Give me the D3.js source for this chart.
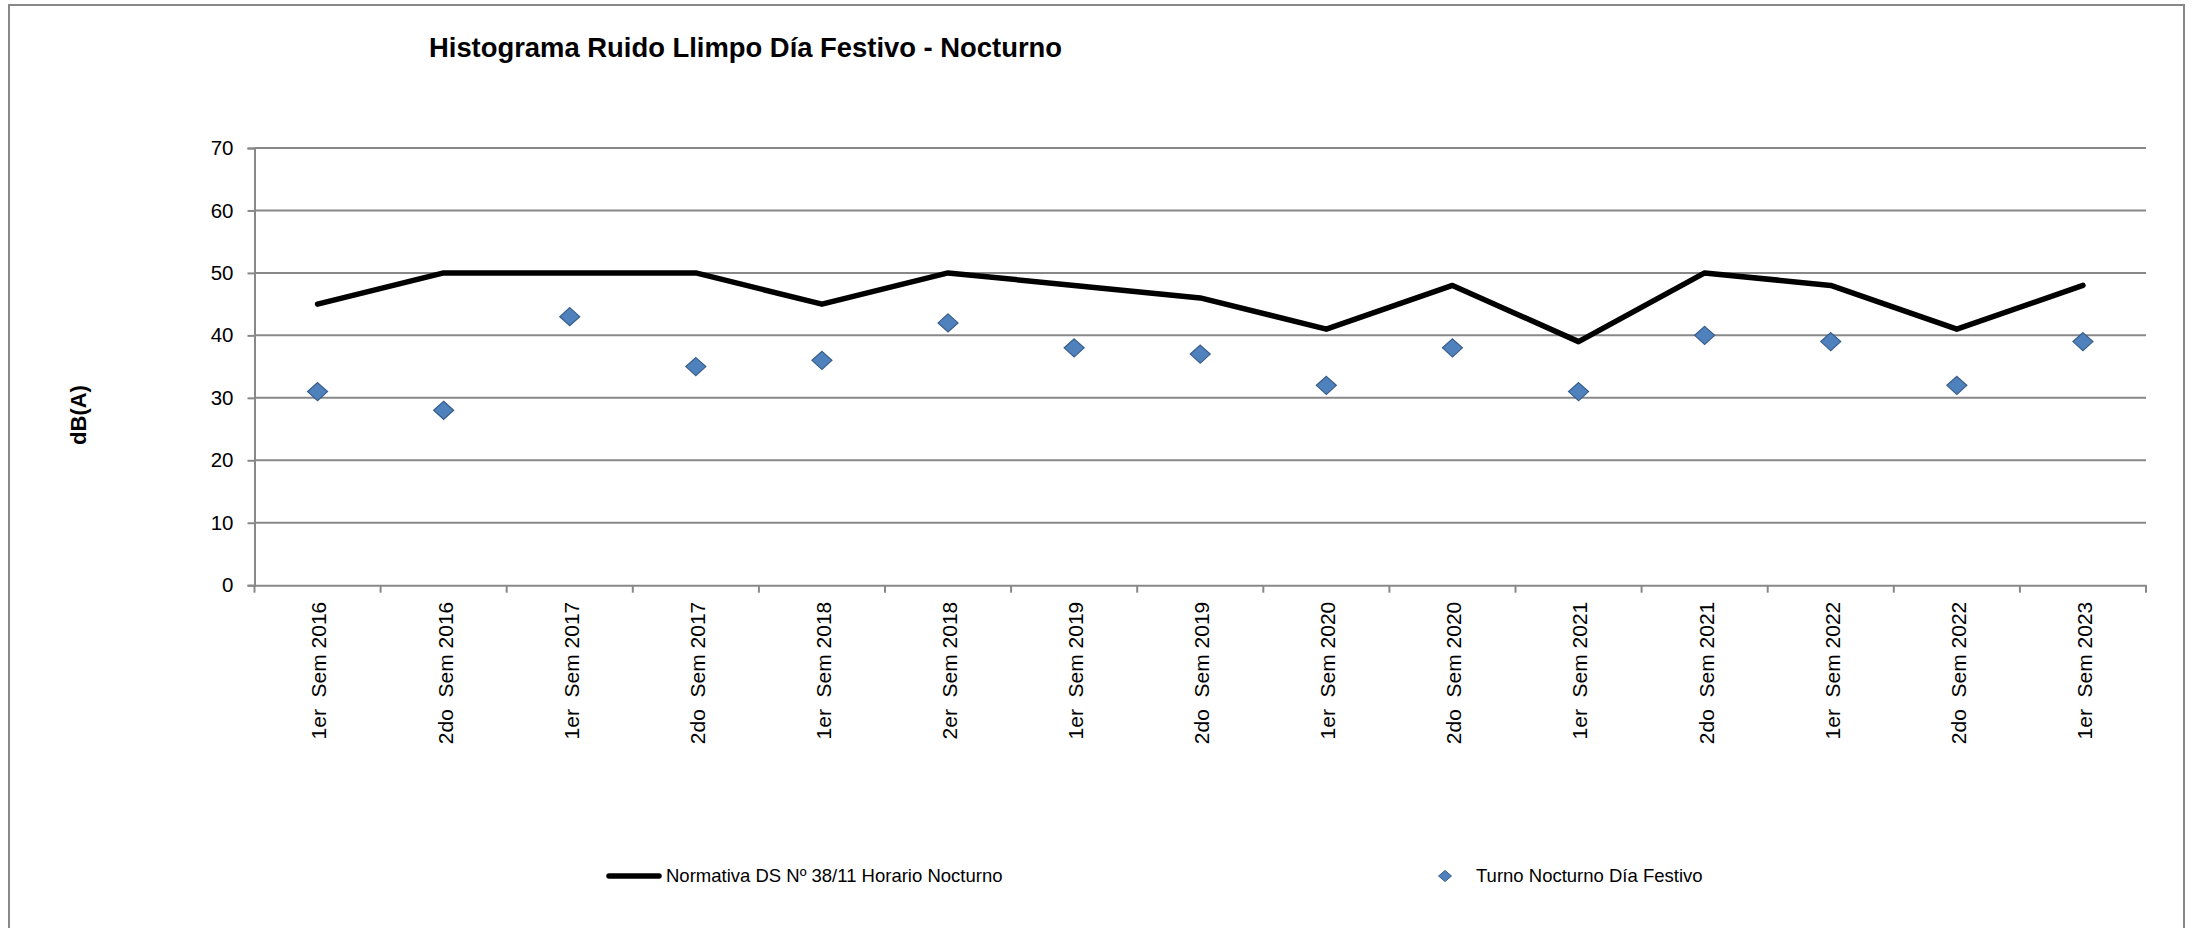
<!DOCTYPE html>
<html>
<head>
<meta charset="utf-8">
<script src="https://cdn.jsdelivr.net/npm/d3@7"></script>
<style>
  html, body { margin: 0; padding: 0; background: #ffffff; }
  svg { display: block; }
  text { font-family: "Liberation Sans", Arial, sans-serif; fill: #000; }
</style>
</head>
<body>
<svg id="chart" width="2196" height="928"></svg>
<script>
// ---- data ----
const categories = [
  "1er  Sem 2016", "2do  Sem 2016", "1er  Sem 2017", "2do  Sem 2017", "1er  Sem 2018",
  "2er  Sem 2018", "1er  Sem 2019", "2do  Sem 2019", "1er  Sem 2020", "2do  Sem 2020",
  "1er  Sem 2021", "2do  Sem 2021", "1er  Sem 2022", "2do  Sem 2022", "1er  Sem 2023"
];
const normativa = [45, 50, 50, 50, 45, 50, 48, 46, 41, 48, 39, 50, 48, 41, 48];
const turnoNocturno = [31, 28, 43, 35, 36, 42, 38, 37, 32, 38, 31, 40, 39, 32, 39];
const yTicks = [0, 10, 20, 30, 40, 50, 60, 70];
const seriesNames = ["Normativa DS Nº 38/11 Horario Nocturno", "Turno Nocturno Día Festivo"];
const titleText = "Histograma Ruido Llimpo Día Festivo - Nocturno";
const yAxisTitle = "dB(A)";

// ---- layout ----
const svg = d3.select("#chart");
const plot = { left: 254.5, right: 2146, top: 148, bottom: 585.2 };
const gridColor = "#888888";

// outer border
svg.append("rect")
  .attr("x", 9).attr("y", 5)
  .attr("width", 2184 - 9).attr("height", 960)
  .attr("fill", "none").attr("stroke", gridColor).attr("stroke-width", 2);

const x = d3.scaleBand().domain(categories).range([plot.left, plot.right]).padding(0);
const y = d3.scaleLinear().domain([0, 70]).range([plot.bottom, plot.top]);
const cx = c => x(c) + x.bandwidth() / 2;

// gridlines
svg.append("g").selectAll("line")
  .data(yTicks.filter(t => t > 0))
  .join("line")
  .attr("x1", plot.left).attr("x2", plot.right)
  .attr("y1", d => y(d)).attr("y2", d => y(d))
  .attr("stroke", gridColor).attr("stroke-width", 2);

// y axis
const yAxis = d3.axisLeft(y).tickValues(yTicks).tickSize(7).tickPadding(14);
const gy = svg.append("g").attr("transform", `translate(${plot.left},0)`).call(yAxis);
gy.select(".domain").attr("stroke", gridColor).attr("stroke-width", 2);
gy.selectAll(".tick line").attr("stroke", gridColor).attr("stroke-width", 2);
gy.selectAll(".tick text")
  .attr("font-size", "20.5px")
  .attr("font-family", "'Liberation Sans', Arial, sans-serif")
  .attr("fill", "#000");

// x axis (labels centred in bands, ticks at band boundaries)
const xAxis = d3.axisBottom(x).tickSize(0).tickPadding(0);
const gx = svg.append("g").attr("transform", `translate(0,${plot.bottom})`).call(xAxis);
gx.select(".domain").attr("stroke", gridColor).attr("stroke-width", 2);
gx.selectAll(".tick text")
  .attr("font-size", "21px")
  .attr("font-family", "'Liberation Sans', Arial, sans-serif")
  .attr("fill", "#000")
  .style("white-space", "pre")
  .attr("text-anchor", "end")
  .attr("transform", "rotate(-90)")
  .attr("x", -16.5)
  .attr("y", 1.5)
  .attr("dy", "0.35em");

const boundaries = d3.range(categories.length + 1);
svg.append("g").selectAll("line")
  .data(boundaries)
  .join("line")
  .attr("x1", i => plot.left + i * x.step())
  .attr("x2", i => plot.left + i * x.step())
  .attr("y1", plot.bottom).attr("y2", plot.bottom + 7.5)
  .attr("stroke", gridColor).attr("stroke-width", 2);

// line series
const line = d3.line().x((d, i) => cx(categories[i])).y(d => y(d));
svg.append("path")
  .datum(normativa)
  .attr("d", line)
  .attr("fill", "none")
  .attr("stroke", "#000")
  .attr("stroke-width", 5.5)
  .attr("stroke-linejoin", "round")
  .attr("stroke-linecap", "round");

// diamond markers
const diamond = (w, h) => `M0,${-h}L${w},0L0,${h}L${-w},0Z`;
svg.append("g").selectAll("path")
  .data(turnoNocturno)
  .join("path")
  .attr("transform", (d, i) => `translate(${cx(categories[i])},${y(d)})`)
  .attr("d", diamond(10, 9))
  .attr("fill", "#4F81BD")
  .attr("stroke", "#385D8A")
  .attr("stroke-width", 1.2);

// title
svg.append("text")
  .attr("x", 429).attr("y", 57)
  .attr("font-size", "27.4px")
  .attr("font-weight", "bold")
  .text(titleText);

// y axis title
svg.append("text")
  .attr("transform", "translate(86,415) rotate(-90)")
  .attr("text-anchor", "middle")
  .attr("font-size", "22px")
  .attr("font-weight", "bold")
  .text(yAxisTitle);

// legend
const lg = svg.append("g");
lg.append("line")
  .attr("x1", 609).attr("x2", 659).attr("y1", 876).attr("y2", 876)
  .attr("stroke", "#000").attr("stroke-width", 5.5).attr("stroke-linecap", "round");
lg.append("text")
  .attr("x", 666).attr("y", 882.3)
  .attr("font-size", "18.5px")
  .text(seriesNames[0]);
lg.append("path")
  .attr("transform", "translate(1445,876)")
  .attr("d", diamond(6.5, 5.5))
  .attr("fill", "#4F81BD").attr("stroke", "#385D8A").attr("stroke-width", 1);
lg.append("text")
  .attr("x", 1476).attr("y", 882.3)
  .attr("font-size", "18.5px")
  .text(seriesNames[1]);
</script>
</body>
</html>
